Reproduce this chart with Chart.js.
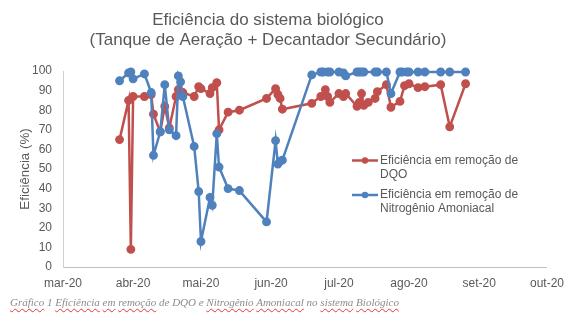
<!DOCTYPE html>
<html>
<head>
<meta charset="utf-8">
<script src="https://cdn.jsdelivr.net/npm/chart.js@4/dist/chart.umd.min.js"></script>
<style>
  html, body { margin: 0; padding: 0; background: #fff; }
  #wrap { position: relative; width: 573px; height: 324px; }
  #caption {
    position: absolute; left: 10px; top: 296px;
    font: italic 11px "Liberation Serif", "DejaVu Serif", serif;
    color: #8c8c8c; white-space: nowrap;
  }
  #caption .sp { text-decoration: underline wavy #e03a3a; text-decoration-thickness: 1px; text-underline-offset: 2px; }
</style>
</head>
<body>
<div id="wrap">
  <canvas id="chart" width="573" height="324"></canvas>
  <div id="caption"><span class="sp">Gráfico</span> 1 <span class="sp">Eficiência</span> <span class="sp">em</span> <span class="sp">remoção</span> de DQO e <span class="sp">Nitrogênio</span> <span class="sp">Amoniacal</span> no <span class="sp">sistema</span> <span class="sp">Biológico</span></div>
</div>
<script>
// Chart data
const titleLines = ['Eficiência do sistema biológico', '(Tanque de Aeração + Decantador Secundário)'];
const yTitle = 'Eficiência (%)';
const seriesNames = ['Eficiência em remoção de DQO', 'Eficiência em remoção de Nitrogênio Amoniacal'];
const legendLines = [['Eficiência em remoção de', 'DQO'], ['Eficiência em remoção de', 'Nitrogênio Amoniacal']];

const monthTicks = ['2020-03-01', '2020-04-01', '2020-05-01', '2020-06-01', '2020-07-01', '2020-08-01', '2020-09-01', '2020-10-01'];
const monthLabels = ['mar-20', 'abr-20', 'mai-20', 'jun-20', 'jul-20', 'ago-20', 'set-20', 'out-20'];

const dqoDates = ['2020-03-26', '2020-03-30', '2020-03-31', '2020-04-01', '2020-04-06', '2020-04-09', '2020-04-10', '2020-04-13',
    '2020-04-15', '2020-04-17', '2020-04-20', '2020-04-21', '2020-04-23', '2020-04-28', '2020-04-30', '2020-05-01',
    '2020-05-05', '2020-05-06', '2020-05-08', '2020-05-09', '2020-05-13', '2020-05-18', '2020-05-30', '2020-06-03',
    '2020-06-04', '2020-06-05', '2020-06-06', '2020-06-19', '2020-06-23', '2020-06-25', '2020-06-26', '2020-06-27',
    '2020-07-01', '2020-07-03', '2020-07-04', '2020-07-09', '2020-07-10', '2020-07-11', '2020-07-12', '2020-07-14',
    '2020-07-17', '2020-07-18', '2020-07-22', '2020-07-24', '2020-07-28', '2020-07-30', '2020-08-01', '2020-08-05',
    '2020-08-08', '2020-08-15', '2020-08-19', '2020-08-26'];
const dqoValues = [65, 85, 9, 87, 87, 88, 78, 69,
    82, 71, 87, 90.5, 89, 87, 92, 91,
    88.5, 91.5, 94, 70, 79, 80, 86, 91,
    88, 86, 80.5, 83.5, 87, 90.5, 87, 84,
    88.5, 87, 88.5, 82, 84, 88.5, 82.5, 84,
    86, 89.5, 93, 81.5, 84.5, 92.5, 93.5, 91.5,
    92, 93, 71.5, 93.5];

const nDates = ['2020-03-26', '2020-03-30', '2020-03-31', '2020-04-01', '2020-04-06', '2020-04-09', '2020-04-10', '2020-04-13',
    '2020-04-15', '2020-04-17', '2020-04-20', '2020-04-21', '2020-04-22', '2020-04-23', '2020-04-28', '2020-04-30',
    '2020-05-01', '2020-05-05', '2020-05-06', '2020-05-08', '2020-05-09', '2020-05-13', '2020-05-18', '2020-05-30',
    '2020-06-03', '2020-06-04', '2020-06-05', '2020-06-06', '2020-06-19', '2020-06-23', '2020-06-24', '2020-06-26',
    '2020-06-27', '2020-07-01', '2020-07-03', '2020-07-04', '2020-07-09', '2020-07-10', '2020-07-11', '2020-07-12',
    '2020-07-17', '2020-07-18', '2020-07-22', '2020-07-24', '2020-07-28', '2020-07-29', '2020-07-31', '2020-08-01',
    '2020-08-05', '2020-08-08', '2020-08-15', '2020-08-19', '2020-08-26'];
const nValues = [95, 99, 99.5, 96, 98.5, 89, 57, 69,
    93, 70, 67, 97.5, 94.5, 87, 61.5, 38.5,
    13, 35.5, 31.5, 68, 51, 40, 39, 23,
    64.5, 52.5, 54, 54.5, 98, 99.5, 99.5, 99.5,
    99.5, 99.5, 99, 97.5, 99.5, 99.5, 99.5, 99.5,
    99.5, 99.5, 99.5, 88.5, 99.5, 99.5, 99.5, 99.5,
    99.5, 99.5, 99.5, 99.5, 99.5];

const RED = '#C0504D';
const BLUE = '#4F81BD';
const TEXT = '#595959';
const FONT = '"Liberation Sans", Arial, sans-serif';

// days since 1 Mar 2020
function dayOf(s) {
    const p = s.split('-').map(Number);
    return (Date.UTC(p[0], p[1] - 1, p[2]) - Date.UTC(2020, 2, 1)) / 86400000;
}

function toPoints(dates, values) {
    return dates.map(function(d, i) { return { x: dayOf(d), y: values[i] }; });
}

const tickDays = monthTicks.map(dayOf);

// title, axis title and legend drawn by hand to match the layout
const decorPlugin = {
    id: 'decor',
    afterDraw: function(chart) {
        const ctx = chart.ctx;
        ctx.save();
        ctx.fillStyle = TEXT;
        ctx.textAlign = 'center';
        ctx.textBaseline = 'middle';
        ctx.font = '17px ' + FONT;
        ctx.fillText(titleLines[0], 268, 20);
        ctx.fillText(titleLines[1], 268, 40);

        ctx.save();
        ctx.translate(25, 169);
        ctx.rotate(-Math.PI / 2);
        ctx.font = '13.3px ' + FONT;
        ctx.fillText(yTitle, 0, 0);
        ctx.restore();

        const colors = [RED, BLUE];
        const rows = [160.5, 195];
        ctx.textAlign = 'left';
        ctx.font = '12px ' + FONT;
        rows.forEach(function(y, i) {
            ctx.strokeStyle = colors[i];
            ctx.fillStyle = colors[i];
            ctx.lineWidth = 2.5;
            ctx.beginPath();
            ctx.moveTo(352, y);
            ctx.lineTo(378, y);
            ctx.stroke();
            ctx.beginPath();
            ctx.arc(365, y, 3.2, 0, Math.PI * 2);
            ctx.fill();
            ctx.fillStyle = TEXT;
            ctx.fillText(legendLines[i][0], 380, y);
            ctx.fillText(legendLines[i][1], 380, y + 14);
        });
        ctx.restore();
    }
};

new Chart(document.getElementById('chart'), {
    type: 'line',
    data: {
        datasets: [
            {
                label: seriesNames[0],
                data: toPoints(dqoDates, dqoValues),
                borderColor: RED,
                backgroundColor: RED,
                borderWidth: 2.5,
                pointRadius: 3.2,
                pointHoverRadius: 3.2,
                tension: 0,
                clip: false,
                order: 1
            },
            {
                label: seriesNames[1],
                data: toPoints(nDates, nValues),
                borderColor: BLUE,
                backgroundColor: BLUE,
                borderWidth: 2.5,
                pointRadius: 3.2,
                pointHoverRadius: 3.2,
                tension: 0,
                clip: false,
                order: 0
            }
        ]
    },
    options: {
        responsive: false,
        animation: false,
        layout: { padding: { top: 71, right: 26, bottom: 0, left: 0 } },
        plugins: {
            legend: { display: false },
            title: { display: false },
            tooltip: { enabled: false }
        },
        scales: {
            x: {
                type: 'linear',
                min: tickDays[0],
                max: tickDays[tickDays.length - 1],
                afterFit: function(scale) { scale.height = 57; },
                afterBuildTicks: function(scale) {
                    scale.ticks = tickDays.map(function(v) { return { value: v }; });
                },
                grid: { display: false, drawTicks: false },
                border: { display: true, color: '#bfbfbf', width: 1 },
                ticks: {
                    autoSkip: false,
                    maxRotation: 0,
                    padding: 9,
                    color: TEXT,
                    font: { family: FONT, size: 12 },
                    callback: function(v) {
                        const i = tickDays.indexOf(v);
                        return i >= 0 ? monthLabels[i] : '';
                    }
                }
            },
            y: {
                min: 0,
                max: 100,
                afterFit: function(scale) { scale.width = 63; },
                grid: { display: false, drawTicks: false },
                border: { display: true, color: '#d0d0d0', width: 1 },
                ticks: {
                    stepSize: 10,
                    padding: 11,
                    color: TEXT,
                    font: { family: FONT, size: 12 }
                }
            }
        }
    },
    plugins: [decorPlugin]
});
</script>
</body>
</html>
